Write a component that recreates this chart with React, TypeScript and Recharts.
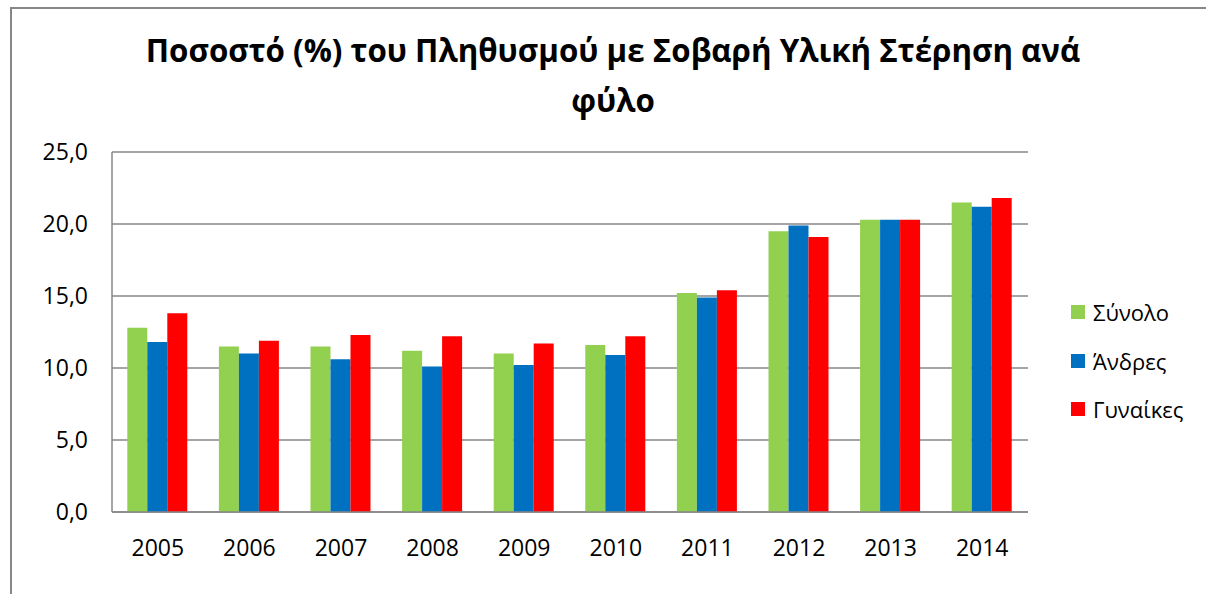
import React from "react";
import { BarChart, Bar, XAxis, YAxis, CartesianGrid, Legend } from "recharts";

const years = ["2005", "2006", "2007", "2008", "2009", "2010", "2011", "2012", "2013", "2014"];
const total = [12.8, 11.5, 11.5, 11.2, 11.0, 11.6, 15.2, 19.5, 20.3, 21.5];
const men = [11.8, 11.0, 10.6, 10.1, 10.2, 10.9, 14.9, 19.9, 20.3, 21.2];
const women = [13.8, 11.9, 12.3, 12.2, 11.7, 12.2, 15.4, 19.1, 20.3, 21.8];
const seriesNames = ["Σύνολο", "Άνδρες", "Γυναίκες"];
const yTicks = [0, 5, 10, 15, 20, 25];

const titleLines = ["Ποσοστό (%) του Πληθυσμού με Σοβαρή Υλική Στέρηση ανά", "φύλο"];

const data = years.map((year, i) => ({
  year,
  total: total[i],
  men: men[i],
  women: women[i],
}));

const font = "'Open Sans', 'Noto Sans', sans-serif";
const grey = "#878787";

const LegendList = ({ payload }: any) => {
  const items = [...(payload || [])].sort(
    (a: any, b: any) => seriesNames.indexOf(a.value) - seriesNames.indexOf(b.value)
  );
  return (
    <div style={{ fontFamily: font, fontSize: 22, color: "#000" }}>
      {items.map((p: any) => (
        <div key={p.value} style={{ display: "flex", alignItems: "center", height: 48.5 }}>
          <span style={{ width: 14, height: 14, background: p.color, marginRight: 8, display: "inline-block" }} />
          <span>{p.value}</span>
        </div>
      ))}
    </div>
  );
};

export default function App() {
  return (
    <div style={{ position: "fixed", left: 0, top: 0, width: 1206, height: 594, background: "#fff", overflow: "hidden" }}>
      <div
        style={{
          position: "absolute",
          left: 10,
          top: 7,
          width: 1220,
          height: 620,
          border: `2px solid ${grey}`,
          boxSizing: "border-box",
        }}
      />
      <div
        style={{
          position: "absolute",
          left: 0,
          top: 25,
          width: 1226,
          textAlign: "center",
          fontFamily: font,
          fontWeight: 700,
          fontSize: 31.3,
          lineHeight: "50px",
          color: "#000",
        }}
      >
        {titleLines.map((l) => (
          <div key={l}>{l}</div>
        ))}
      </div>
      <BarChart
        width={1206}
        height={594}
        data={data}
        margin={{ top: 152, right: 178, bottom: 42, left: 0 }}
        barCategoryGap="16.7%"
        barGap={0}
      >
        <CartesianGrid vertical={false} stroke={grey} strokeWidth={1.5} />
        <XAxis
          dataKey="year"
          height={40}
          tickLine={false}
          axisLine={{ stroke: grey, strokeWidth: 1.5 }}
          tick={{ fill: "#000", fontSize: 23, fontFamily: font, dy: 20 }}
        />
        <YAxis
          width={112}
          domain={[0, 25]}
          ticks={yTicks}
          tickLine={false}
          axisLine={{ stroke: grey, strokeWidth: 1.5 }}
          tickFormatter={(v: number) => v.toFixed(1).replace(".", ",")}
          tick={{ fill: "#000", fontSize: 23, fontFamily: font, dx: -16 }}
        />
        <Legend
          layout="vertical"
          align="center"
          verticalAlign="middle"
          content={<LegendList />}
          wrapperStyle={{ position: "absolute", left: 1071, top: 288, width: 140 }}
        />
        <Bar dataKey="total" name={seriesNames[0]} fill="#92D050" isAnimationActive={false} />
        <Bar dataKey="men" name={seriesNames[1]} fill="#0070C0" isAnimationActive={false} />
        <Bar dataKey="women" name={seriesNames[2]} fill="#FF0000" isAnimationActive={false} />
      </BarChart>
    </div>
  );
}
